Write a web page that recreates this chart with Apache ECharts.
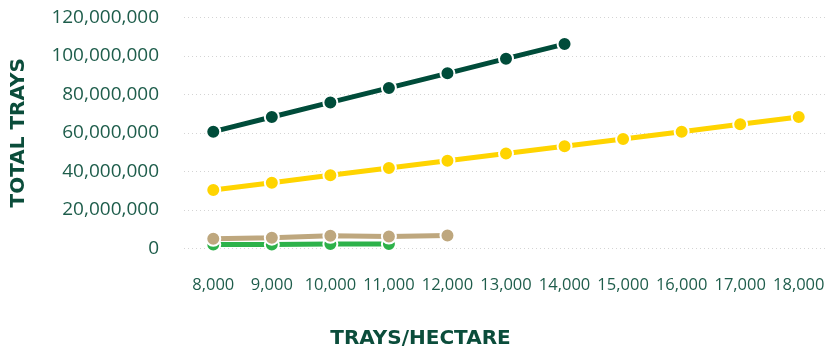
<!DOCTYPE html>
<html>
<head>
<meta charset="utf-8">
<script src="https://cdn.jsdelivr.net/npm/echarts@6/dist/echarts.min.js"></script>
<style>
  html, body { margin: 0; padding: 0; background: #ffffff; }
  #chart { width: 828px; height: 349px; }
</style>
</head>
<body>
<div id="chart"></div>
<script>
// Categories (trays per hectare)
var categories = ['8,000', '9,000', '10,000', '11,000', '12,000', '13,000', '14,000', '15,000', '16,000', '17,000', '18,000'];

// Series values (total trays)
var darkGreenValues = [60600000, 68200000, 75800000, 83300000, 90900000, 98500000, 106100000];
var yellowValues = [30300000, 34100000, 37900000, 41700000, 45500000, 49300000, 53000000, 56800000, 60600000, 64400000, 68200000];
var tanValues = [4900000, 5500000, 6500000, 6100000, 6600000];
var greenValues = [2000000, 2000000, 2200000, 2200000];

// Y axis ticks
var yTicks = [0, 20000000, 40000000, 60000000, 80000000, 100000000, 120000000];

var yTitle = 'TOTAL TRAYS';
var xTitle = 'TRAYS/HECTARE';

var labelColor = '#1e5d4b';
var titleColor = '#0b4d3b';

function fmt(v) {
  return String(v).replace(/\B(?=(\d{3})+(?!\d))/g, ',');
}

function lineSeries(name, data, color, z) {
  return {
    name: name,
    type: 'line',
    data: data,
    z: z,
    symbol: 'circle',
    symbolSize: 14,
    showSymbol: true,
    lineStyle: { color: color, width: 5 },
    itemStyle: { color: color, borderColor: '#ffffff', borderWidth: 2 },
    emphasis: { disabled: true }
  };
}

var chart = echarts.init(document.getElementById('chart'), null, { renderer: 'canvas' });
chart.setOption({
  animation: false,
  backgroundColor: '#ffffff',
  grid: { left: 184, right: 0, top: 17.3, bottom: 100.7, containLabel: false },
  xAxis: {
    type: 'category',
    data: categories,
    boundaryGap: true,
    axisLine: { show: false },
    axisTick: { show: false },
    splitLine: { show: false },
    axisLabel: {
      color: labelColor,
      fontFamily: 'Open Sans',
      fontSize: 16.5,
      margin: 28,
      interval: 0
    }
  },
  yAxis: {
    type: 'value',
    min: yTicks[0],
    max: yTicks[yTicks.length - 1],
    interval: yTicks[1] - yTicks[0],
    name: yTitle,
    nameLocation: 'middle',
    nameGap: 155,
    nameRotate: 90,
    nameTextStyle: {
      color: titleColor,
      fontFamily: 'DejaVu Sans',
      fontWeight: 'bold',
      fontSize: 20
    },
    axisLine: { show: false },
    axisTick: { show: false },
    splitLine: {
      show: true,
      lineStyle: { color: '#d4d4d4', width: 1, type: [1, 3] }
    },
    axisLabel: {
      color: labelColor,
      fontFamily: 'Open Sans',
      fontSize: 19,
      margin: 25,
      formatter: function (v) { return fmt(v); }
    }
  },
  graphic: [{
    type: 'text',
    x: 420.5,
    y: 338.5,
    style: {
      text: xTitle,
      fill: titleColor,
      font: 'bold 20px "DejaVu Sans"',
      align: 'center',
      verticalAlign: 'middle'
    }
  }],
  series: [
    lineSeries('Green', greenValues, '#2db24a', 2),
    lineSeries('Tan', tanValues, '#bea77e', 3),
    lineSeries('Yellow', yellowValues, '#ffd400', 4),
    lineSeries('Dark green', darkGreenValues, '#004c3a', 5)
  ]
});
</script>
</body>
</html>
